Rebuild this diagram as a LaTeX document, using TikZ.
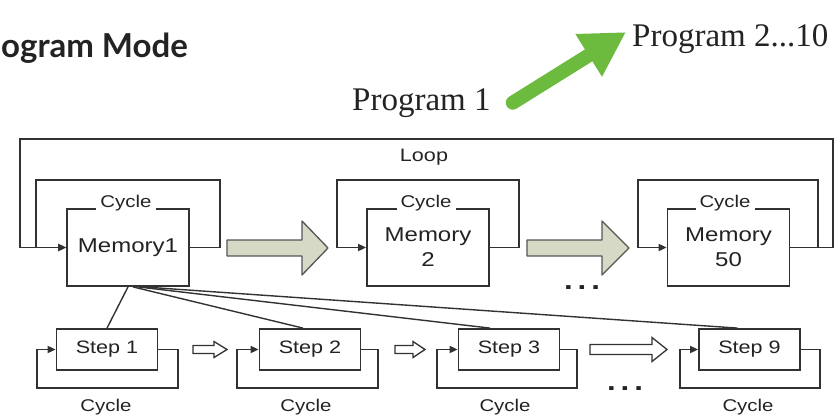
\documentclass[tikz,border=0pt]{standalone}
\usepackage{fontspec}
\setmainfont{Liberation Serif}
\newfontfamily\dfont[FakeStretch=1.2]{Liberation Sans}
\newfontfamily\tfont{Lato}
\usetikzlibrary{arrows.meta,calc}
\definecolor{linec}{RGB}{50,50,50}
\definecolor{txtc}{RGB}{35,35,35}
\definecolor{greenarr}{RGB}{108,186,62}
\definecolor{blockfill}{RGB}{214,217,198}
\definecolor{blockdraw}{RGB}{85,85,85}
\begin{document}
\begin{tikzpicture}[x=1pt,y=-1pt,
  ln/.style={draw=linec,line width=1.8pt},
  fanline/.style={draw=linec,line width=1.4pt},
  tipd/.style={-{Triangle[length=8pt,width=7pt]}},
  membox/.style={ln,fill=white,minimum width=122pt,minimum height=77pt,inner sep=0pt,align=center,text=txtc,font=\dfont\fontsize{20}{25}\selectfont},
  stepbox/.style={ln,fill=white,minimum width=101pt,minimum height=41pt,inner sep=0pt,text=txtc,font=\dfont\fontsize{18}{20}\selectfont},
  lbl/.style={font=\dfont\fontsize{17}{19}\selectfont,text=txtc,inner sep=0pt},
  lblcut/.style={lbl,fill=white,inner xsep=4pt,inner ysep=3pt},
  bigarrow/.style={draw=blockdraw,fill=blockfill,line width=1.3pt,line join=round},
  hollow/.style={draw=linec,fill=white,line width=1.3pt,line join=miter},
  serif/.style={font=\fontsize{33}{36}\selectfont,text=txtc,inner sep=0pt},
  dots/.style={font=\dfont\bfseries\fontsize{26}{26}\selectfont,text=txtc,inner sep=0pt},
]
\useasboundingbox (0,0) rectangle (835,418);

% title and program labels
\node[anchor=base west,font=\tfont\bfseries\fontsize{33}{38}\selectfont,text=txtc,inner sep=0pt] (title) at (1,57) {ogram Mode};
\node[serif,anchor=base west] (p1) at (352,110) {Program 1};
\node[serif,anchor=base west] (p2) at (632,46) {Program 2...10};
\draw[greenarr,line width=14pt,line cap=round,-{Triangle[length=44pt,width=47pt]}]
  ($(p1.east)+(22,0)$) -- ($(p2.west)+(-6,-6.5)$);

% memory boxes
\node[membox] (m1) at (128,247.5) {Memory1};
\node[membox] (m2) at (428,247.5) {Memory\\2};
\node[membox] (m50) at (728.5,247.5) {Memory\\50};

% outer loop
\draw[ln,tipd] (m50.east) -- (833,247.5) |- (20,139) |- (m1.west);
\node[lbl,font=\dfont\fontsize{18}{20}\selectfont] (loopl) at (424,157) {Loop};

% cycles around memory boxes
\draw[ln,tipd] (m1.east) -- (220,247.5) |- (36,180) |- (m1.west);
\draw[ln,tipd] (m2.east) -- (519,247.5) |- (337,180) |- (m2.west);
\draw[ln,tipd] (m50.east) -- (818,247.5) |- (638,180) |- (m50.west);
\node[lblcut,anchor=base] (c1) at (126,207) {Cycle};
\node[lblcut,anchor=base] (c2) at (426,207) {Cycle};
\node[lblcut,anchor=base] (c50) at (725,207) {Cycle};

% big block arrows
\draw[bigarrow] (227,240) -- (302,240) -- (302,221) -- (328,248) -- (302,275) -- (302,256) -- (227,256) -- cycle;
\draw[bigarrow] (527,240) -- (602,240) -- (602,221) -- (629,248) -- (602,275) -- (602,256) -- (527,256) -- cycle;
\node[dots,anchor=base] (d1) at (582,289) {.\kern5pt.\kern5pt.};

% steps
\node[stepbox] (s1) at (107,349.5) {Step 1};
\node[stepbox] (s2) at (310,349.5) {Step 2};
\node[stepbox] (s3) at (509,349.5) {Step 3};
\node[stepbox] (s9) at (749.5,349.5) {Step 9};

\draw[ln,tipd] (s1.east) -- (178,349.5) |- (37,388) |- (s1.west);
\draw[ln,tipd] (s2.east) -- (378,349.5) |- (237,388) |- (s2.west);
\draw[ln,tipd] (s3.east) -- (577,349.5) |- (437,388) |- (s3.west);
\draw[ln,tipd] (s9.east) -- (820,349.5) |- (680,388) |- (s9.west);

\node[lbl,anchor=base] (cs1) at (106,411) {Cycle};
\node[lbl,anchor=base] (cs2) at (306,411) {Cycle};
\node[lbl,anchor=base] (cs3) at (505,411) {Cycle};
\node[lbl,anchor=base] (cs9) at (748,411) {Cycle};

% hollow arrows between steps
\draw[hollow] (193,345.5) -- (214,345.5) -- (214,341.5) -- (227,349.5) -- (214,357.5) -- (214,353.5) -- (193,353.5) -- cycle;
\draw[hollow] (395,345.5) -- (413,345.5) -- (413,341.5) -- (425,349.5) -- (413,357.5) -- (413,353.5) -- (395,353.5) -- cycle;
\draw[hollow] (590,344.5) -- (652,344.5) -- (652,337.5) -- (667,349.5) -- (652,361.5) -- (652,354.5) -- (590,354.5) -- cycle;
\node[dots,anchor=base] (d2) at (625,390) {.\kern5pt.\kern5pt.};

% fan lines from Memory1 to steps
\draw[fanline] (m1.south) -- (s1.north);
\draw[fanline] ($(m1.south)+(5,0)$) -- ($(s2.north)+(-7,0)$);
\draw[fanline] ($(m1.south)+(10,0)$) -- ($(s3.north)+(-19,0)$);
\draw[fanline] ($(m1.south)+(15,0)$) -- ($(s9.north)+(-12,0)$);
\end{tikzpicture}
\end{document}
